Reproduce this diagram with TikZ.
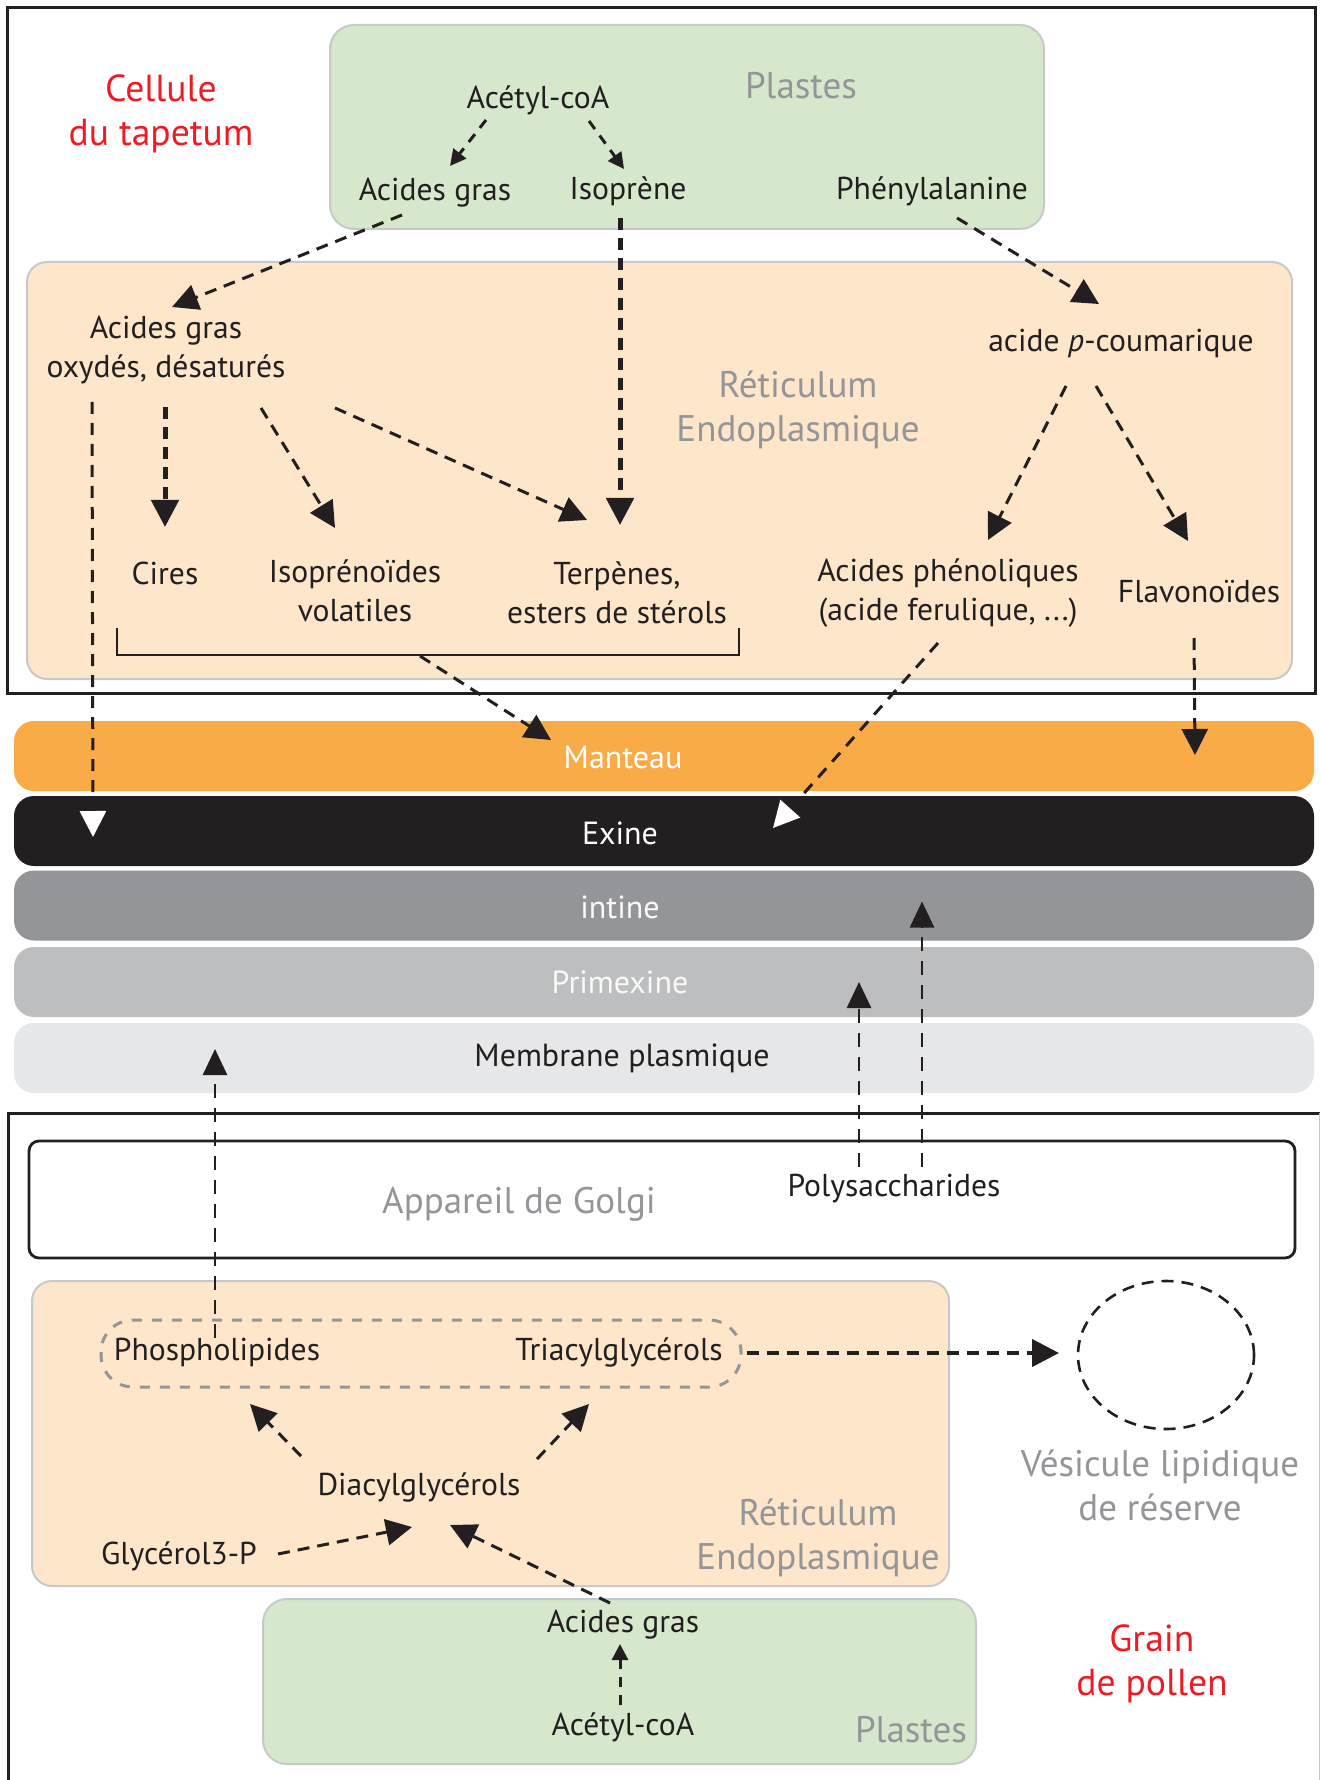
\documentclass[tikz,border=0pt]{standalone}
\usepackage{fontspec}
\setmainfont{PT Sans}
\usetikzlibrary{arrows.meta,calc,shapes.geometric}
\definecolor{ink}{HTML}{231F20}
\definecolor{gtxt}{HTML}{939598}
\definecolor{redt}{HTML}{ED1C24}
\definecolor{plastfill}{HTML}{D5E8CB}
\definecolor{erfill}{HTML}{FDE6CA}
\definecolor{boxline}{HTML}{C7C8CA}
\definecolor{manteauc}{HTML}{F9AB48}
\definecolor{exinec}{HTML}{231F20}
\definecolor{intinec}{HTML}{939598}
\definecolor{primexc}{HTML}{BCBEC0}
\definecolor{membc}{HTML}{E6E7E8}
\begin{document}
\begin{tikzpicture}[x=0.5pt,y=-0.5pt,
  lbl/.style={font=\fontsize{15.8}{19.5}\selectfont, text=ink, align=center, inner sep=0pt},
  glbl/.style={font=\fontsize{18.5}{22}\selectfont, text=gtxt, align=center, inner sep=0pt},
  rlbl/.style={font=\fontsize{18.8}{22}\selectfont, text=redt, align=center, inner sep=0pt},
  layer/.style={rounded corners=10pt, minimum width=650pt, minimum height=35pt, inner sep=0pt},
  laytxt/.style={font=\fontsize{16}{18}\selectfont, inner sep=0pt},
  arr/.style={draw=ink, line width=1.5pt, dash pattern=on 6pt off 4pt, -{Triangle[length=13pt,width=13pt]}},
  tarr/.style={draw=ink, line width=2.5pt, dash pattern=on 6pt off 4pt, -{Triangle[length=13.5pt,width=13.5pt]}},
  sarr/.style={draw=ink, line width=1.5pt, dash pattern=on 5pt off 4pt, -{Triangle[length=8pt,width=8pt]}},
  warr/.style={draw=ink, line width=1.5pt, dash pattern=on 6pt off 4.5pt, -{Triangle[length=13pt,width=13pt,color=white]}},
  varr/.style={draw=ink, line width=1.3pt, dash pattern=on 7pt off 5pt, -{Triangle[length=13pt,width=12pt]}}
]
\useasboundingbox (0,0) rectangle (1320,1780);
\fill[white] (0,0) rectangle (1320,1780);

% ---------- top cell ----------
\draw[ink, line width=1.5pt] (7,8) rectangle (1315,693);
\draw[boxline, line width=1pt, fill=plastfill, rounded corners=12pt] (330,25) rectangle (1044,229);
\draw[boxline, line width=1pt, fill=erfill, rounded corners=10pt] (27,262) rectangle (1292,679);

\node[rlbl] (cellule) at (161,114) {Cellule\\du tapetum};
\node[glbl] (plast1) at (801,86) {Plastes};
\node[lbl] (acoa) at (538,100) {Acétyl-coA};
\node[lbl] (agras) at (435,193) {Acides gras};
\node[lbl] (isop) at (628,191) {Isoprène};
\node[lbl] (phe) at (932,191) {Phénylalanine};
\node[lbl] (oxy) at (166,350) {Acides gras\\oxydés, désaturés};
\node[glbl] (ret1) at (798,410) {Réticulum\\Endoplasmique};
\node[lbl] (pcoum) at (1121,343) {acide \textit{p}-coumarique};
\node[lbl] (cires) at (165,573) {Cires};
\node[lbl] (isopr) at (355,591) {Isoprénoïdes\\volatiles};
\node[lbl] (terp) at (617,593) {Terpènes,\\esters de stérols};
\node[lbl] (aphen) at (948,593) {Acides phénoliques\\(acide ferulique, ...)};
\node[lbl] (flav) at (1199,592) {Flavonoïdes};

\draw[ink, line width=1.3pt] (117,628) -- (117,655) -- (739,655) -- (739,628);
\coordinate (brk) at (420,656);

% ---------- layers ----------
\node[layer, fill=manteauc] (manteau) at (664,756) {};
\node[layer, fill=exinec] (exine) at (664,831) {};
\node[layer, fill=intinec] (intine) at (664,905.5) {};
\node[layer, fill=primexc] (primex) at (664,982) {};
\node[layer, fill=membc] (memb) at (664,1058) {};
\node[laytxt, text=white] (tmanteau) at (623,757) {Manteau};
\node[laytxt, text=white] (texine) at (620,833) {Exine};
\node[laytxt, text=white!95!gray] (tintine) at (620,907) {intine};
\node[laytxt, text=white!95!gray] (tprimex) at (620,982) {Primexine};
\node[laytxt, text=ink] (tmemb) at (622,1058) {Membrane plasmique};

% ---------- top arrows ----------
\draw[sarr] ($(acoa)+(-52,20)$) -- ($(agras)+(15,-27)$);
\draw[sarr] ($(acoa)+(51,21)$) -- ($(isop)+(-4,-22)$);
\draw[arr] ($(agras)+(-33,22)$) -- ($(oxy)+(6,-43)$);
\draw[tarr] ($(isop)+(-8,27)$) -- ($(terp)+(3,-68)$);
\draw[tarr] ($(oxy)+(-1,57)$) -- ($(cires)+(0,-46)$);
\draw[arr] ($(oxy)+(95,58)$) -- ($(isopr)+(-20,-63)$);
\draw[arr] ($(oxy)+(169,58)$) -- ($(terp)+(-30,-73)$);
\draw[arr] ($(phe)+(25,27)$) -- ($(pcoum)+(-22,-39)$);
\draw[arr] ($(pcoum)+(-55,43)$) -- ($(aphen)+(40,-53)$);
\draw[arr] ($(pcoum)+(-25,43)$) -- ($(flav)+(-11,-51)$);
\draw[arr] ($(flav)+(-5,46)$) -- ($(manteau)+(531,-1)$);
\draw[arr] (brk) -- ($(manteau)+(-113,-16)$);
\draw[warr] ($(oxy)+(-74,52)$) -- ($(exine)+(-571,6)$);
\draw[warr] ($(aphen)+(-10,50)$) -- ($(exine)+(109,-3)$);

% ---------- bottom cell ----------
\draw[ink, line width=1.5pt] (8,1780) -- (8,1113) -- (1320,1113);
\draw[boxline, line width=0.5pt] (1319,1113) -- (1319,1780);
\draw[ink, line width=1.4pt, rounded corners=5pt] (29,1141) rectangle (1295,1258);
\draw[boxline, line width=1pt, fill=erfill, rounded corners=10pt] (32,1281) rectangle (949,1586);
\draw[boxline, line width=1pt, fill=plastfill, rounded corners=12pt] (263,1599) rectangle (976,1764);
\draw[gtxt, line width=1.5pt, dash pattern=on 5pt off 5pt, rounded corners=16pt] (101,1320) rectangle (741,1387);
\node[draw=ink, line width=1.3pt, dash pattern=on 6pt off 4pt, ellipse, minimum width=88pt, minimum height=74pt, inner sep=0pt] (ves) at (1166,1355) {};

\node[glbl] (golgi) at (519,1204) {Appareil de Golgi};
\node[lbl] (polys) at (894,1189) {Polysaccharides};
\node[lbl] (phospho) at (217,1352) {Phospholipides};
\node[lbl] (triacyl) at (619,1352) {Triacylglycérols};
\node[lbl] (diacyl) at (419,1487) {Diacylglycérols};
\node[lbl] (glyc) at (179,1556) {Glycérol3-P};
\node[glbl] (ret2) at (818,1538) {Réticulum\\Endoplasmique};
\node[glbl] (vesl) at (1160,1485) {Vésicule lipidique\\de réserve};
\node[lbl] (agras2) at (623,1625) {Acides gras};
\node[lbl] (acoa2) at (623,1727) {Acétyl-coA};
\node[glbl] (plast2) at (911,1730) {Plastes};
\node[rlbl] (grain) at (1152,1664) {Grain\\de pollen};

% ---------- bottom arrows ----------
\draw[varr] ($(polys)+(-35,-22)$) -- ($(primex)+(195,0)$);
\draw[varr] ($(polys)+(28,-22)$) -- ($(intine)+(258,-4)$);
\draw[varr] ($(phospho)+(-2,-14)$) -- ($(memb)+(-449,-9)$);
\draw[tarr, line width=2.2pt] ($(triacyl)+(128,1)$) -- ($(ves)+(-107,-2)$);
\draw[arr] ($(diacyl)+(-118,-31)$) -- ($(phospho)+(33,52)$);
\draw[arr] ($(diacyl)+(118,-28)$) -- ($(triacyl)+(-30,52)$);
\draw[arr] ($(glyc)+(99,-2)$) -- ($(diacyl)+(-7,40)$);
\draw[arr] ($(agras2)+(-13,-22)$) -- ($(diacyl)+(31,38)$);
\draw[sarr] ($(acoa2)+(-3,-22)$) -- ($(agras2)+(-3,19)$);
\end{tikzpicture}
\end{document}
